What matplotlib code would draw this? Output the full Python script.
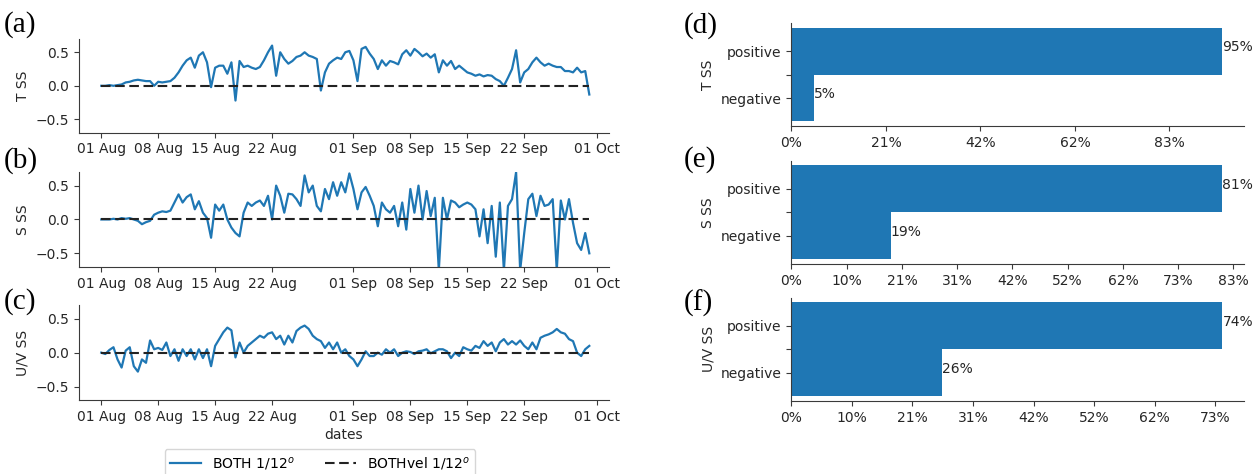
import numpy as np
import matplotlib
matplotlib.use("Agg")
import matplotlib.pyplot as plt
import matplotlib.dates as mdates
from matplotlib.ticker import FuncFormatter

# skill-score series, 12-hourly from 01 Aug
start = np.datetime64("2020-08-01T00:00")
tick_dates = ["2020-08-01", "2020-08-08", "2020-08-15", "2020-08-22", "2020-09-01",
              "2020-09-08", "2020-09-15", "2020-09-22", "2020-10-01"]

t_ss = [0.0, 0.0, 0.01, 0.0, 0.01, 0.02, 0.05, 0.06, 0.08, 0.09,
        0.08, 0.07, 0.07, 0.0, 0.06, 0.05, 0.06, 0.07, 0.12, 0.2,
        0.3, 0.38, 0.42, 0.27, 0.45, 0.5, 0.35, -0.02, 0.27, 0.3,
        0.3, 0.18, 0.35, -0.22, 0.37, 0.28, 0.3, 0.27, 0.25, 0.28,
        0.38, 0.5, 0.6, 0.15, 0.5, 0.4, 0.33, 0.37, 0.43, 0.45,
        0.5, 0.45, 0.43, 0.4, -0.07, 0.2, 0.33, 0.38, 0.42, 0.4,
        0.5, 0.52, 0.38, 0.07, 0.55, 0.58, 0.48, 0.4, 0.25, 0.38,
        0.3, 0.37, 0.35, 0.32, 0.47, 0.53, 0.45, 0.55, 0.5, 0.44,
        0.48, 0.42, 0.47, 0.2, 0.38, 0.3, 0.37, 0.25, 0.3, 0.25,
        0.2, 0.18, 0.15, 0.17, 0.14, 0.16, 0.15, 0.1, 0.07, 0.0,
        0.12, 0.25, 0.53, 0.05, 0.2, 0.25, 0.35, 0.42, 0.35, 0.3,
        0.33, 0.3, 0.28, 0.28, 0.22, 0.22, 0.2, 0.27, 0.2, 0.22,
        -0.13]

s_ss = [0.0, 0.0, 0.0, 0.01, 0.0, 0.02, 0.01, 0.02, 0.0, -0.02,
        -0.07, -0.04, -0.02, 0.07, 0.1, 0.12, 0.11, 0.13, 0.25, 0.37,
        0.25, 0.33, 0.37, 0.15, 0.27, 0.1, 0.02, -0.27, 0.22, 0.13,
        0.22, 0.0, -0.12, -0.2, -0.25, 0.1, 0.25, 0.2, 0.25, 0.28,
        0.2, 0.35, 0.0, 0.5, 0.35, 0.1, 0.38, 0.37, 0.3, 0.2,
        0.65, 0.4, 0.5, 0.2, 0.12, 0.45, 0.3, 0.55, 0.35, 0.55,
        0.4, 0.68, 0.45, 0.15, 0.4, 0.48, 0.35, 0.2, -0.1, 0.25,
        0.15, 0.1, 0.2, -0.1, 0.25, -0.15, 0.45, 0.1, 0.5, 0.0,
        0.42, 0.05, 0.32, -0.75, 0.32, 0.0, 0.28, 0.25, 0.18, 0.22,
        0.25, 0.22, 0.15, -0.25, 0.15, -0.35, 0.2, -0.55, 0.25, -0.75,
        0.2, 0.3, 0.7, -0.75, -0.2, 0.3, 0.38, 0.05, 0.35, 0.2,
        0.22, 0.3, -0.75, 0.28, 0.0, 0.3, -0.05, -0.35, -0.45, -0.2,
        -0.5]

uv_ss = [0.0, -0.02, 0.04, 0.08, -0.1, -0.22, 0.03, 0.08, -0.2, -0.28,
         -0.1, -0.15, 0.18, 0.05, 0.07, 0.04, 0.15, -0.05, 0.05, -0.12,
         0.05, -0.05, 0.05, -0.1, 0.05, -0.08, 0.05, -0.2, 0.1, 0.2,
         0.3, 0.37, 0.33, -0.07, 0.15, 0.0, 0.1, 0.15, 0.2, 0.25,
         0.22, 0.28, 0.3, 0.2, 0.25, 0.12, 0.25, 0.15, 0.32, 0.37,
         0.4, 0.35, 0.25, 0.2, 0.17, 0.07, 0.15, 0.05, 0.15, 0.0,
         0.05, -0.05, -0.1, -0.2, -0.1, 0.02, -0.05, -0.05, 0.0, -0.03,
         0.05, 0.0, 0.05, -0.05, 0.0, 0.02, 0.01, -0.02, 0.02, 0.03,
         0.05, -0.01, 0.02, 0.05, 0.05, 0.02, -0.08, 0.0, -0.05, 0.08,
         0.05, 0.03, 0.1, 0.07, 0.17, 0.1, 0.15, 0.02, 0.15, 0.2,
         0.12, 0.17, 0.12, 0.18, 0.1, 0.05, 0.15, 0.05, 0.22, 0.25,
         0.27, 0.3, 0.35, 0.3, 0.28, 0.2, 0.17, 0.0, -0.05, 0.05,
         0.1]

# sign counts (out of 240 samples)
n_total = 240
categories = ["negative", "positive"]
t_counts = [12, 228]
s_counts = [45, 195]
uv_counts = [62, 178]

series_names = ["T SS", "S SS", "U/V SS"]
panel_tags = ["(a)", "(b)", "(c)", "(d)", "(e)", "(f)"]

TXT = "#262626"
BLUE = "#1f77b4"
plt.rcParams.update({
    "font.family": "DejaVu Sans",
    "font.size": 10,
    "axes.edgecolor": "#3a3a3a",
    "axes.labelcolor": TXT,
    "xtick.color": "#3a3a3a",
    "ytick.color": "#3a3a3a",
    "xtick.labelcolor": TXT,
    "ytick.labelcolor": TXT,
    "axes.spines.top": False,
    "axes.spines.right": False,
})

W, H = 1253, 474
fig = plt.figure(figsize=(W / 100, H / 100), dpi=100)

left_boxes = [(0.0627, 0.720, 0.4233, 0.198),
              (0.0627, 0.437, 0.4233, 0.200),
              (0.0627, 0.156, 0.4233, 0.200)]
right_boxes = [(0.6316, 0.734, 0.3612, 0.217),
               (0.6316, 0.443, 0.3612, 0.218),
               (0.6316, 0.154, 0.3612, 0.218)]

xticks = np.array(tick_dates, dtype="datetime64[D]")
x0 = start - np.timedelta64(67, "h")
x1 = start + np.timedelta64(int(62.45 * 24), "h")

for i, vals in enumerate([t_ss, s_ss, uv_ss]):
    ax = fig.add_axes(left_boxes[i])
    times = start + np.arange(len(vals)) * np.timedelta64(12, "h")
    ax.plot(times, vals, color=BLUE, lw=1.6, label="BOTH 1/12$^o$")
    ax.plot(times, np.zeros(len(vals)), "--", color="#222222", lw=1.5,
            dashes=(4.6, 2.2), label="BOTHvel 1/12$^o$")
    ax.set_ylim(-0.7, 0.7)
    ax.set_yticks([-0.5, 0.0, 0.5])
    ax.set_xlim(x0, x1)
    ax.set_xticks(xticks)
    ax.xaxis.set_major_formatter(mdates.DateFormatter("%d %b"))
    ax.set_ylabel(series_names[i])
    if i == 2:
        ax.set_xlabel("dates", labelpad=3)
        handles, labels = ax.get_legend_handles_labels()

for i, counts in enumerate([t_counts, s_counts, uv_counts]):
    ax = fig.add_axes(right_boxes[i])
    ypos = np.arange(len(categories))
    ax.barh(ypos, counts, height=1.0, color=BLUE)
    for y, c in zip(ypos, counts):
        ax.text(c, y, f"{c / n_total * 100:.0f}%", color=TXT, fontsize=10)
    ax.set_yticks([0, 0.5, 1])
    ax.set_yticklabels([categories[0], "", categories[1]])
    ax.xaxis.set_major_formatter(
        FuncFormatter(lambda v, p: f"{v / n_total * 100:.0f}%"))
    ax.set_ylabel(series_names[i])

fig.legend(handles, labels, loc="upper center", ncol=2,
           bbox_to_anchor=(320 / W, 1 - 449 / H), borderaxespad=0,
           frameon=True, edgecolor="#cccccc", fontsize=10,
           handlelength=2.2, columnspacing=2.2)

tag_pos = [(4, 25), (4, 161), (4, 302), (684, 26), (684, 160), (684, 303)]
for tag, (px, py) in zip(panel_tags, tag_pos):
    fig.text(px / W, 1 - py / H, tag, fontsize=21, family="Liberation Serif",
             va="center", ha="left", color="black")

fig.savefig("out.png", dpi=100)
